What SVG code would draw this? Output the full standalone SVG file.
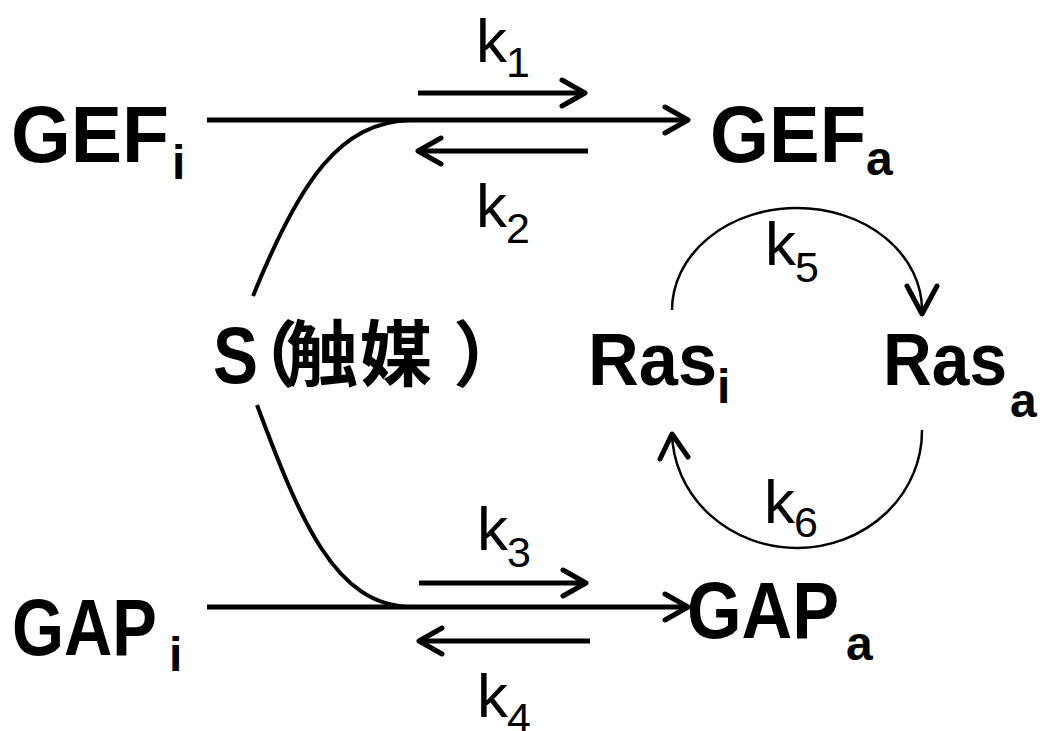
<svg xmlns="http://www.w3.org/2000/svg" width="1044" height="731" viewBox="0 0 1044 731">
<style>
.lbl{font-family:"Liberation Sans",Arial,sans-serif;font-weight:bold;fill:#000}
.sub{font-family:"Liberation Sans",Arial,sans-serif;font-weight:bold;font-size:48px;fill:#000}
.k{font-family:"Liberation Sans",Arial,sans-serif;font-size:62px;fill:#000}
.kn{font-family:"Liberation Sans",Arial,sans-serif;font-size:43px;fill:#000}
.cjk{font-family:"Noto Sans CJK JP","Noto Sans CJK SC",sans-serif;font-weight:bold;font-size:72px;fill:#000}
.ln{fill:none;stroke:#000;stroke-width:5;stroke-linecap:butt}
.hd{fill:none;stroke:#000;stroke-width:5;stroke-linecap:round;stroke-linejoin:round}
.arc{fill:none;stroke:#000;stroke-width:2.5}
.cv{fill:none;stroke:#000;stroke-width:4;stroke-linecap:butt}
</style>
<rect width="1044" height="731" fill="#fff"/>
<g id="connectors">
  <path class="ln" d="M207,120 H687"/>
  <polyline class="hd" points="665,107 688,120 665,133"/>
  <path class="ln" d="M418,93 H583"/>
  <polyline class="hd" points="562,80 585,93 562,106"/>
  <path class="ln" d="M588,151 H420"/>
  <polyline class="hd" points="441,138 418,151 441,164"/>
  <path class="cv" d="M253,296 C300,180 340,122 411,120"/>
  <path class="ln" d="M207,607 H687"/>
  <polyline class="hd" points="665,594 688,607 665,620"/>
  <path class="ln" d="M419,583 H584"/>
  <polyline class="hd" points="563,570 586,583 563,596"/>
  <path class="ln" d="M590,641 H421"/>
  <polyline class="hd" points="442,628 419,641 442,654"/>
  <path class="cv" d="M257,405 C300,520 335,606 411,607"/>
  <path class="arc" d="M672,310 A125,102 0 0 1 922,310 L922,314"/>
  <polyline class="hd" points="907,286 922,314 937,286"/>
  <path class="arc" d="M922,430 A125,117 0 0 1 672,432 L672,436"/>
  <polyline class="hd" points="660,459 672,434 688,457"/>
</g>
<g id="k1"><text class="k" x="476" y="62">k</text><text class="kn" x="506" y="77">1</text></g>
<g id="k2"><text class="k" x="476" y="227">k</text><text class="kn" x="506" y="243">2</text></g>
<g id="k3"><text class="k" x="477" y="550">k</text><text class="kn" x="507" y="567">3</text></g>
<g id="k4"><text class="k" x="477" y="717">k</text><text class="kn" x="507" y="733">4</text></g>
<g id="k5"><text class="k" x="765" y="265">k</text><text class="kn" x="795" y="282">5</text></g>
<g id="k6"><text class="k" x="764" y="523">k</text><text class="kn" x="794" y="537">6</text></g>
<g id="GEFi"><text class="lbl" x="11" y="162" font-size="80" textLength="158" lengthAdjust="spacingAndGlyphs">GEF</text><text class="sub" x="172" y="179">i</text></g>
<g id="GEFa"><text class="lbl" x="710" y="162" font-size="80" textLength="156" lengthAdjust="spacingAndGlyphs">GEF</text><text class="sub" x="866" y="175">a</text></g>
<g id="GAPi"><text class="lbl" x="12" y="655" font-size="80" textLength="145" lengthAdjust="spacingAndGlyphs">GAP</text><text class="sub" x="169" y="671">i</text></g>
<g id="GAPa"><text class="lbl" x="687" y="638" font-size="80" textLength="152" lengthAdjust="spacingAndGlyphs">GAP</text><text class="sub" x="846" y="660">a</text></g>
<g id="Rasi"><text class="lbl" x="588" y="385" font-size="74" textLength="129" lengthAdjust="spacingAndGlyphs">Ras</text><text class="sub" x="717" y="403">i</text></g>
<g id="Rasa"><text class="lbl" x="883" y="385" font-size="74" textLength="124" lengthAdjust="spacingAndGlyphs">Ras</text><text class="sub" x="1010" y="417">a</text></g>
<g id="S"><text class="lbl" x="213" y="383" font-size="80" textLength="45" lengthAdjust="spacingAndGlyphs">S</text><text class="cjk" x="226 286 360 453" y="380">（触媒）</text></g>
</svg>
